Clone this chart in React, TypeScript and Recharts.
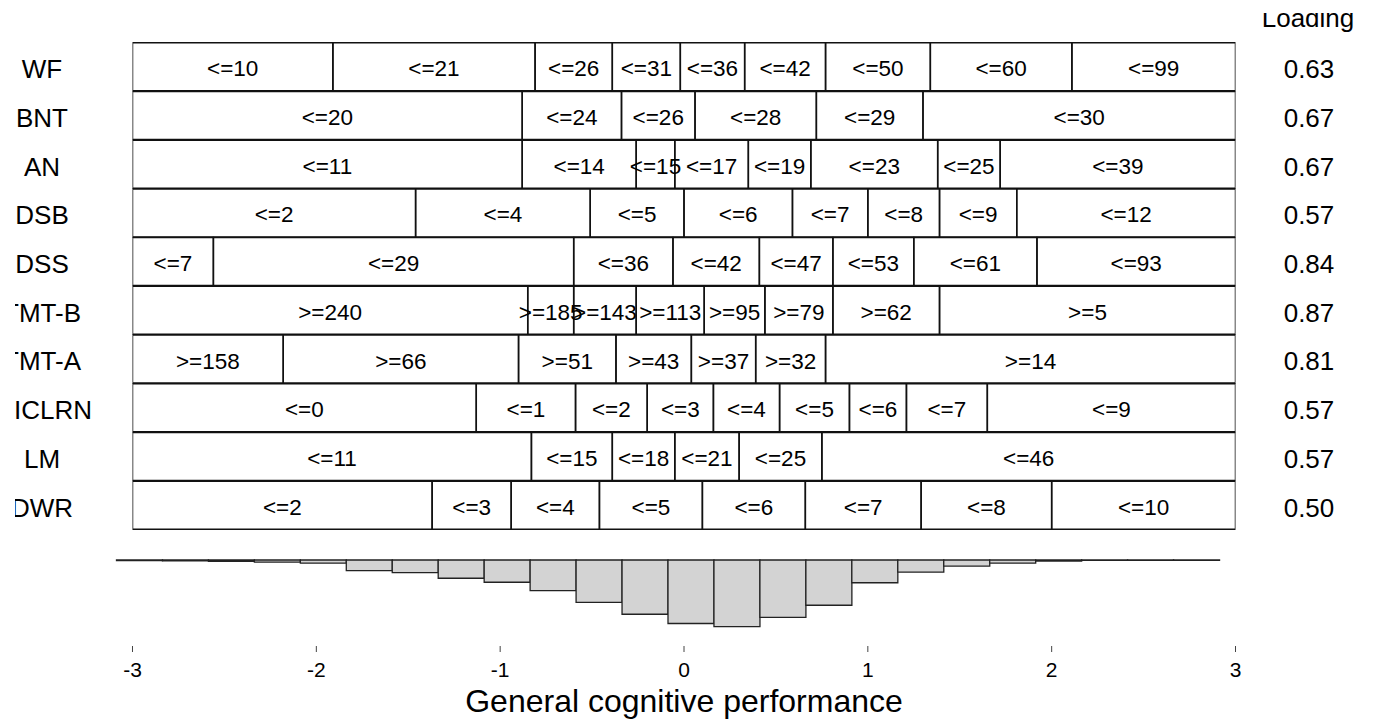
import React from 'react';
import { BarChart, Bar, XAxis, YAxis, LabelList } from 'recharts';

const FONT = '"Liberation Sans", Arial, Helvetica, sans-serif';

const tests = ['WF', 'BNT', 'AN', 'DSB', 'DSS', 'TMT-B', 'TMT-A', 'ICLRN', 'LM', 'DWR'];
const loadings = ['0.63', '0.67', '0.67', '0.57', '0.84', '0.87', '0.81', '0.57', '0.57', '0.50'];

// Upper cut points (on the general cognitive performance scale) between score bands
const wfCuts = [-1.91, -0.81, -0.39, -0.02, 0.33, 0.77, 1.34, 2.11];
const wfLabels = ['<=10', '<=21', '<=26', '<=31', '<=36', '<=42', '<=50', '<=60', '<=99'];
const bntCuts = [-0.88, -0.34, 0.06, 0.72, 1.3];
const bntLabels = ['<=20', '<=24', '<=26', '<=28', '<=29', '<=30'];
const anCuts = [-0.88, -0.26, -0.05, 0.35, 0.69, 1.38, 1.72];
const anLabels = ['<=11', '<=14', '<=15', '<=17', '<=19', '<=23', '<=25', '<=39'];
const dsbCuts = [-1.46, -0.51, 0.0, 0.59, 1.0, 1.39, 1.81];
const dsbLabels = ['<=2', '<=4', '<=5', '<=6', '<=7', '<=8', '<=9', '<=12'];
const dssCuts = [-2.56, -0.6, -0.06, 0.41, 0.81, 1.25, 1.92];
const dssLabels = ['<=7', '<=29', '<=36', '<=42', '<=47', '<=53', '<=61', '<=93'];
const tmtbCuts = [-0.85, -0.6, -0.26, 0.11, 0.44, 0.81, 1.39];
const tmtbLabels = ['>=240', '>=185', '>=143', '>=113', '>=95', '>=79', '>=62', '>=5'];
const tmtaCuts = [-2.18, -0.9, -0.37, 0.04, 0.39, 0.77];
const tmtaLabels = ['>=158', '>=66', '>=51', '>=43', '>=37', '>=32', '>=14'];
const iclrnCuts = [-1.13, -0.59, -0.2, 0.16, 0.52, 0.9, 1.21, 1.65];
const iclrnLabels = ['<=0', '<=1', '<=2', '<=3', '<=4', '<=5', '<=6', '<=7', '<=9'];
const lmCuts = [-0.83, -0.39, -0.05, 0.3, 0.75];
const lmLabels = ['<=11', '<=15', '<=18', '<=21', '<=25', '<=46'];
const dwrCuts = [-1.37, -0.94, -0.46, 0.1, 0.66, 1.29, 2.0];
const dwrLabels = ['<=2', '<=3', '<=4', '<=5', '<=6', '<=7', '<=8', '<=10'];

const scoreMin = -3;
const scoreMax = 3;
const axisTicks = [-3, -2, -1, 0, 1, 2, 3];

// Histogram of general cognitive performance (bin centres, bin width 0.25)
const binCenters = [-2.96, -2.71, -2.46, -2.21, -1.96, -1.71, -1.46, -1.21, -0.96, -0.71, -0.46, -0.21,
  0.04, 0.29, 0.54, 0.79, 1.04, 1.29, 1.54, 1.79, 2.04, 2.29, 2.54, 2.79];
const binCounts = [2, 3, 5, 8, 12, 40, 48, 69, 84, 116, 160, 205, 240, 252, 217, 171, 86, 46, 23, 12, 4, 1, 1, 1];

const cutsByRow = [wfCuts, bntCuts, anCuts, dsbCuts, dssCuts, tmtbCuts, tmtaCuts, iclrnCuts, lmCuts, dwrCuts];
const labelsByRow = [wfLabels, bntLabels, anLabels, dsbLabels, dssLabels, tmtbLabels, tmtaLabels, iclrnLabels, lmLabels, dwrLabels];
const MAXSEG = Math.max(...labelsByRow.map((l) => l.length));
const segKeys = Array.from({ length: MAXSEG }, (_, k) => k);

const rowData = tests.map((test, i) => {
  const edges = [scoreMin, ...cutsByRow[i], scoreMax];
  const row: Record<string, any> = { test, loading: loadings[i] };
  segKeys.forEach((k) => {
    if (k < edges.length - 1) {
      row['s' + k] = [edges[k], edges[k + 1]];
      row['l' + k] = labelsByRow[i][k];
    } else {
      row['s' + k] = null;
      row['l' + k] = null;
    }
  });
  return row;
});

const histData = binCenters.map((bin, i) => ({ bin, count: binCounts[i] }));

const RowTick = (props: any) => {
  const { y, payload } = props;
  const i = tests.indexOf(payload.value);
  const nudge = payload.value === 'ICLRN' ? 11 : 0;
  return (
    <g>
      <text x={27 + nudge} y={y + 2} textAnchor="middle" dominantBaseline="central" fontSize={26} fill="#000" fontFamily={FONT}>
        {payload.value}
      </text>
      <text x={1294} y={y + 2} textAnchor="middle" dominantBaseline="central" fontSize={26} fill="#000" fontFamily={FONT}>
        {loadings[i]}
      </text>
      {i === 0 && (
        <text x={1293} y={14.3} textAnchor="middle" fontSize={26} fill="#000" fontFamily={FONT}>
          Loading
        </text>
      )}
    </g>
  );
};

const SegLabel = (props: any) => {
  const { x, y, width, height, value } = props;
  if (value == null || value === '') return null;
  return (
    <text x={x + width / 2} y={y + height / 2 + 2} textAnchor="middle" dominantBaseline="central" fontSize={22.5} fill="#000" fontFamily={FONT}>
      {value}
    </text>
  );
};

const ScoreTick = (props: any) => {
  const { x, y, payload } = props;
  return (
    <text x={x} y={y} dy="0.72em" textAnchor="middle" fontSize={21} fill="#000" fontFamily={FONT}>
      {payload.value}
    </text>
  );
};

const AxisTitle = (props: any) => {
  const vb = props.viewBox || { x: 95.73, y: 116, width: 1176.5, height: 73 };
  return (
    <text x={vb.x + vb.width / 2} y={vb.y + 65.7} textAnchor="middle" fontSize={32} fill="#000" fontFamily={FONT}>
      General cognitive performance
    </text>
  );
};

export default function App() {
  return (
    <div style={{ position: 'absolute', left: 0, top: 0, width: 1374, height: 719, background: '#fff', overflow: 'hidden' }}>
      <div style={{ position: 'absolute', left: 15, top: 13 }}>
        <BarChart
          width={1359}
          height={520}
          data={rowData}
          layout="vertical"
          margin={{ top: 29.7, right: 138.5, bottom: 3, left: 17.5 }}
          barCategoryGap={0}
          barGap={-48}
        >
          <XAxis type="number" domain={[scoreMin, scoreMax]} hide allowDataOverflow />
          <YAxis type="category" dataKey="test" width={100} axisLine={false} tickLine={false} interval={0} tick={<RowTick />} />
          {segKeys.map((k) => (
            <Bar key={k} dataKey={'s' + k} fill="none" stroke="#111" strokeWidth={1.5} isAnimationActive={false}>
              <LabelList dataKey={'l' + k} content={SegLabel} />
            </Bar>
          ))}
        </BarChart>
      </div>
      <div style={{ position: 'absolute', left: 0, top: 530 }}>
        <BarChart
          width={1374}
          height={189}
          data={histData}
          margin={{ top: 30, right: 101.73, bottom: 0, left: 95.73 }}
          barCategoryGap={0}
          barGap={0}
        >
          <XAxis
            xAxisId="score"
            dataKey="bin"
            type="number"
            domain={[-3.2, 3.2]}
            ticks={axisTicks}
            allowDataOverflow
            axisLine={false}
            tickSize={6}
            tickMargin={10}
            tick={<ScoreTick />}
            tickLine={{ stroke: '#444' }}
            height={73}
            label={<AxisTitle />}
          />
          <XAxis xAxisId="bins" dataKey="bin" type="category" hide height={0} padding={{ left: 20.77, right: 52.77 }} />
          <YAxis hide reversed domain={[0, 325]} />
          <Bar xAxisId="bins" dataKey="count" fill="#d3d3d3" stroke="#222" strokeWidth={1.3} isAnimationActive={false} />
        </BarChart>
      </div>
    </div>
  );
}
